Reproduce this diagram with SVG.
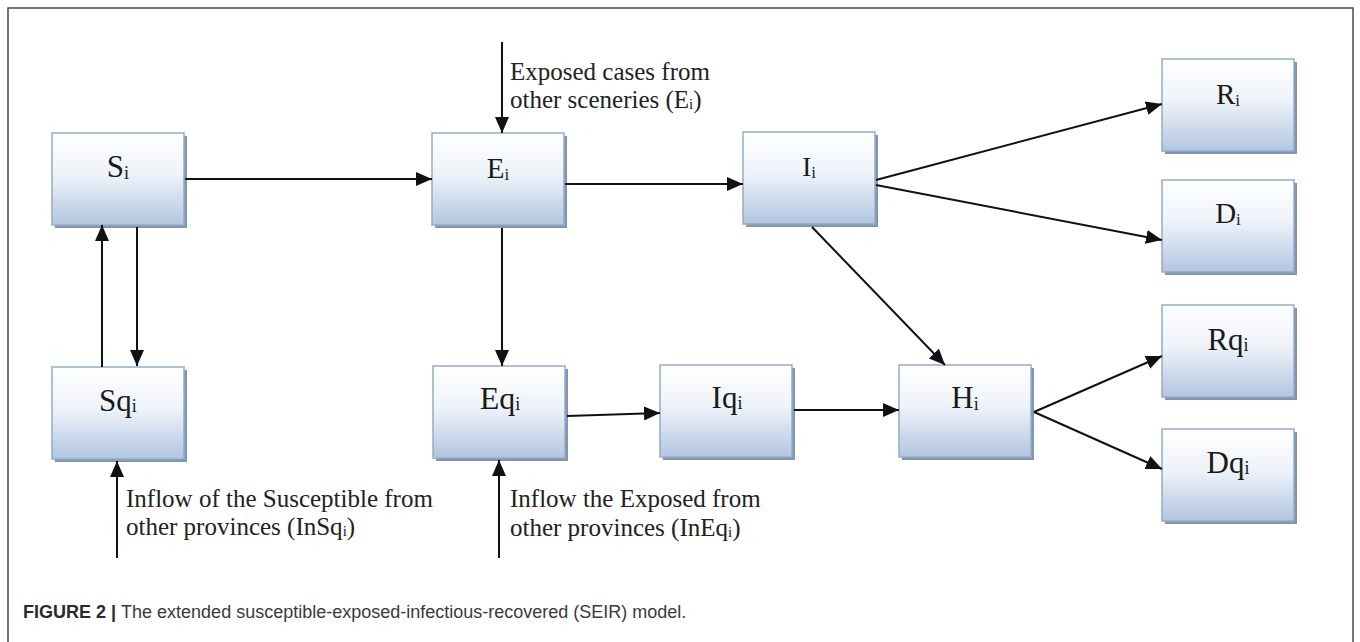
<svg xmlns="http://www.w3.org/2000/svg" width="1360" height="642" viewBox="0 0 1360 642">
<style>
.box{fill:url(#g);stroke:#93acc9;stroke-width:1.5}
.sh{fill:#8395ae}
.lbl{font-family:"Liberation Serif","Times New Roman",serif;fill:#1a1a1a;text-anchor:middle}
.ann{font-family:"Liberation Serif","Times New Roman",serif;font-size:25px;fill:#222}
.edge{stroke:#111;stroke-width:2;fill:none;marker-end:url(#ah)}
.cap{font-family:"Liberation Sans",Arial,sans-serif;font-size:18px;fill:#3a3a3a}
</style>
<defs>
<linearGradient id="g" x1="0" y1="0" x2="0" y2="1">
<stop offset="0" stop-color="#ffffff"/>
<stop offset="0.45" stop-color="#eef3f9"/>
<stop offset="1" stop-color="#b2c5e0"/>
</linearGradient>
<marker id="ah" markerUnits="userSpaceOnUse" markerWidth="16" markerHeight="14" refX="16" refY="7" orient="auto">
<path d="M0,0 L16,7 L0,14 z" fill="#111"/>
</marker>
</defs>
<rect width="1360" height="642" fill="#ffffff"/>
<rect x="8" y="8" width="1345" height="660" fill="none" stroke="#4a4a4a" stroke-width="1.5"/>

<g id="node-Si"><rect class="sh" x="55" y="136" width="132" height="92"/><rect class="box" x="52" y="133" width="132" height="92"/><text class="lbl" x="118" y="177" font-size="31">S<tspan font-size="18" dy="2">i</tspan></text></g>
<g id="node-Ei"><rect class="sh" x="435" y="136" width="132" height="92"/><rect class="box" x="432" y="133" width="132" height="92"/><text class="lbl" x="498" y="178" font-size="29">E<tspan font-size="17" dy="2">i</tspan></text></g>
<g id="node-Ii"><rect class="sh" x="746" y="135" width="132" height="92"/><rect class="box" x="743" y="132" width="132" height="92"/><text class="lbl" x="809" y="176" font-size="27">I<tspan font-size="17" dy="2">i</tspan></text></g>
<g id="node-Ri"><rect class="sh" x="1165" y="62" width="132" height="92"/><rect class="box" x="1162" y="59" width="132" height="92"/><text class="lbl" x="1228" y="104" font-size="29">R<tspan font-size="17" dy="2">i</tspan></text></g>
<g id="node-Di"><rect class="sh" x="1165" y="183" width="132" height="92"/><rect class="box" x="1162" y="180" width="132" height="92"/><text class="lbl" x="1228" y="223" font-size="29">D<tspan font-size="17" dy="2">i</tspan></text></g>
<g id="node-Sqi"><rect class="sh" x="55" y="370" width="132" height="92"/><rect class="box" x="52" y="367" width="132" height="92"/><text class="lbl" x="118" y="411" font-size="31">Sq<tspan font-size="18" dy="1">i</tspan></text></g>
<g id="node-Eqi"><rect class="sh" x="436" y="369" width="132" height="92"/><rect class="box" x="433" y="366" width="132" height="92"/><text class="lbl" x="500" y="409" font-size="32">Eq<tspan font-size="18" dy="1">i</tspan></text></g>
<g id="node-Iqi"><rect class="sh" x="663" y="368" width="132" height="92"/><rect class="box" x="660" y="365" width="132" height="92"/><text class="lbl" x="727" y="408" font-size="31">Iq<tspan font-size="18" dy="1">i</tspan></text></g>
<g id="node-Hi"><rect class="sh" x="902" y="368" width="132" height="92"/><rect class="box" x="899" y="365" width="132" height="92"/><text class="lbl" x="965" y="408" font-size="31">H<tspan font-size="18" dy="2">i</tspan></text></g>
<g id="node-Rqi"><rect class="sh" x="1165" y="308" width="132" height="92"/><rect class="box" x="1162" y="305" width="132" height="92"/><text class="lbl" x="1228" y="350" font-size="31">Rq<tspan font-size="18" dy="1">i</tspan></text></g>
<g id="node-Dqi"><rect class="sh" x="1165" y="432" width="132" height="92"/><rect class="box" x="1162" y="429" width="132" height="92"/><text class="lbl" x="1228" y="473" font-size="31">Dq<tspan font-size="18" dy="1">i</tspan></text></g>

<g id="connectors">
<line class="edge" x1="185" y1="179" x2="432" y2="179"/>
<line class="edge" x1="565" y1="184" x2="743" y2="184"/>
<line class="edge" x1="502" y1="42" x2="502" y2="133"/>
<line class="edge" x1="502" y1="228" x2="502" y2="366"/>
<line class="edge" x1="102" y1="367" x2="102" y2="225"/>
<line class="edge" x1="137" y1="227" x2="137" y2="366"/>
<line class="edge" x1="117" y1="558" x2="117" y2="461"/>
<line class="edge" x1="499" y1="558" x2="499" y2="460"/>
<line class="edge" x1="567" y1="416" x2="660" y2="413"/>
<line class="edge" x1="794" y1="410" x2="899" y2="410"/>
<line class="edge" x1="812" y1="227" x2="945" y2="365"/>
<line class="edge" x1="876" y1="180" x2="1162" y2="104"/>
<line class="edge" x1="876" y1="185" x2="1162" y2="240"/>
<line class="edge" x1="1034" y1="412" x2="1162" y2="356"/>
<line class="edge" x1="1034" y1="412" x2="1162" y2="469"/>
</g>

<g id="labels">
<text class="ann" x="510" y="80">Exposed cases from</text>
<text class="ann" x="510" y="108">other sceneries (E<tspan font-size="15" dy="1">i</tspan><tspan dy="-1">)</tspan></text>
<text class="ann" x="126" y="507">Inflow of the Susceptible from</text>
<text class="ann" x="126" y="535">other provinces (InSq<tspan font-size="15" dy="1">i</tspan><tspan dy="-1">)</tspan></text>
<text class="ann" x="510" y="507">Inflow the Exposed from</text>
<text class="ann" x="510" y="536">other provinces (InEq<tspan font-size="15" dy="1">i</tspan><tspan dy="-1">)</tspan></text>
</g>

<text class="cap" x="23" y="618"><tspan font-weight="bold" fill="#2a2a2a">FIGURE 2</tspan><tspan font-weight="bold" fill="#2a2a2a"> | </tspan>The extended susceptible-exposed-infectious-recovered (SEIR) model.</text>
</svg>
